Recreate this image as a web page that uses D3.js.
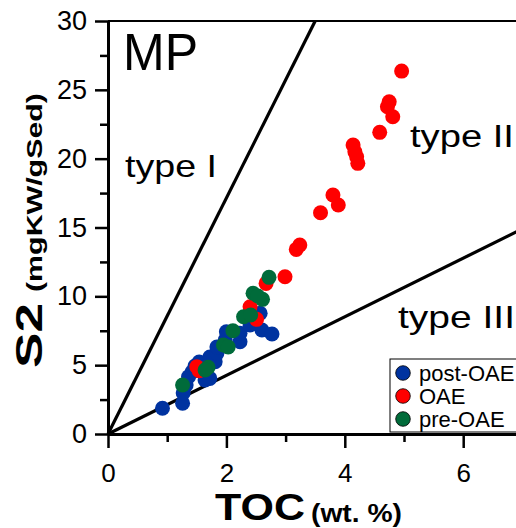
<!DOCTYPE html>
<html>
<head>
<meta charset="utf-8">
<script src="https://cdn.jsdelivr.net/npm/d3@7"></script>
<style>
  html, body { margin: 0; padding: 0; background: #fff; }
  svg { display: block; font-family: "Liberation Sans", Arial, sans-serif; }
</style>
</head>
<body>
<script>
// ---- data (TOC wt.%, S2 mgKW/gSed) ----
const postOAE_TOC = [0.92,1.26,1.27,1.32,1.36,1.42,1.47,1.54,1.64,1.72,1.81,1.72,1.84,1.84,1.98,2.00,2.23,2.23,2.40,2.48,2.57,2.60,2.77];
const postOAE_S2  = [1.87,2.23,2.98,3.56,4.16,4.50,4.94,5.23,3.92,4.04,5.25,5.59,5.86,6.32,6.83,7.43,6.70,7.31,7.92,8.42,8.77,7.55,7.26];
const OAE_TOC = [4.96,4.75,4.72,4.81,4.59,4.14,4.17,4.20,4.22,3.80,3.89,3.59,3.24,3.18,2.99,2.67,2.40,2.51,1.54,1.50];
const OAE_S2  = [26.36,24.13,23.77,23.04,21.91,20.99,20.50,20.14,19.66,17.36,16.63,16.07,13.73,13.41,11.42,10.94,9.24,8.33,4.60,4.89];
const preOAE_TOC = [2.72,2.45,2.61,2.53,2.29,2.41,2.11,1.95,2.03,1.69,1.64,1.26];
const preOAE_S2  = [11.38,10.22,9.78,10.02,8.52,8.64,7.50,6.46,6.32,4.84,4.65,3.56];

const seriesNames = ["post-OAE", "OAE", "pre-OAE"];
const seriesColors = ["#0033a0", "#ff0000", "#006b3a"];

const typeI_line   = [[0, 0], [3.5, 30]];
const typeIII_line = [[0, 0], [7, 14.9]];

const xMajorTicks = [0, 2, 4, 6];
const xMinorTicks = [1, 3, 5, 7];
const yMajorTicks = [0, 5, 10, 15, 20, 25, 30];
const yMinorTicks = [2.5, 7.5, 12.5, 17.5, 22.5, 27.5];

// ---- chart ----
const W = 516, H = 528;
const svg = d3.select("body").append("svg").attr("width", W).attr("height", H);

const x = d3.scaleLinear().domain([0, 7]).range([108, 108 + 7 * 59.2]);
const y = d3.scaleLinear().domain([0, 30]).range([434, 21]);

// boundary lines
const lineGen = d3.line().x(d => x(d[0])).y(d => y(d[1]));
[typeI_line, typeIII_line].forEach(l => {
  svg.append("path").attr("d", lineGen(l))
    .attr("fill", "none").attr("stroke", "#000").attr("stroke-width", 3.2);
});

// points
const series = [
  {tx: postOAE_TOC, s2: postOAE_S2, c: seriesColors[0]},
  {tx: OAE_TOC, s2: OAE_S2, c: seriesColors[1]},
  {tx: preOAE_TOC, s2: preOAE_S2, c: seriesColors[2]}
];
series.forEach(s => {
  svg.append("g").selectAll("circle")
    .data(s.tx.map((t, i) => [t, s.s2[i]]))
    .join("circle")
    .attr("cx", d => x(d[0])).attr("cy", d => y(d[1]))
    .attr("r", 7.5).attr("fill", s.c);
});

// top border
svg.append("line")
  .attr("x1", x(0)).attr("x2", x(7)).attr("y1", y(30)).attr("y2", y(30))
  .attr("stroke", "#000").attr("stroke-width", 2);

// axes
function styleAxis(g, w, fs) {
  g.selectAll("path.domain").attr("stroke", "#000").attr("stroke-width", w);
  g.selectAll(".tick line").attr("stroke", "#000").attr("stroke-width", 2.5);
  g.selectAll(".tick text").attr("font-size", fs).attr("fill", "#000")
    .attr("font-family", "'Liberation Sans', Arial, sans-serif");
}
const yMajor = svg.append("g").attr("transform", `translate(${x(0)},0)`)
  .call(d3.axisLeft(y).tickValues(yMajorTicks).tickSizeInner(13).tickSizeOuter(0).tickPadding(8).tickFormat(d3.format("d")));
styleAxis(yMajor, 3, 27);
const yMinor = svg.append("g").attr("transform", `translate(${x(0)},0)`)
  .call(d3.axisLeft(y).tickValues(yMinorTicks).tickSizeInner(8).tickSizeOuter(0).tickFormat(""));
styleAxis(yMinor, 3, 27);

const xMajor = svg.append("g").attr("transform", `translate(0,${y(0)})`)
  .call(d3.axisBottom(x).tickValues(xMajorTicks).tickSizeInner(14).tickSizeOuter(0).tickPadding(16).tickFormat(d3.format("d")));
styleAxis(xMajor, 3, 26);
xMajor.selectAll(".tick text").attr("dy", null).attr("y", 482);
xMajor.selectAll(".tick text").attr("y", 482 - y(0));
const xMinor = svg.append("g").attr("transform", `translate(0,${y(0)})`)
  .call(d3.axisBottom(x).tickValues(xMinorTicks).tickSizeInner(8).tickSizeOuter(0).tickFormat(""));
styleAxis(xMinor, 3, 26);

// horizontally stretched text helper (keeps glyphs, no letter-spacing)
function stretchText(parent, str, px, py, size, len, bold, rot) {
  const g = parent.append("g");
  const t = g.append("text").attr("x", 0).attr("y", 0).attr("font-size", size)
    .attr("font-weight", bold ? "bold" : "normal").attr("fill", "#000").text(str);
  const nat = t.node().getComputedTextLength();
  const sx = len / nat;
  g.attr("transform", `translate(${px},${py})` + (rot ? ` rotate(${rot})` : "") + ` scale(${sx},1)`);
  return g;
}

stretchText(svg, "MP", 123, 70, 52, 75, false);
const typeLabels = [
  {t: "type I", x: 125, y: 177, len: 92},
  {t: "type II", x: 410, y: 147, len: 104},
  {t: "type III", x: 398, y: 328, len: 117}
];
typeLabels.forEach(d => stretchText(svg, d.t, d.x, d.y, 31, d.len, false));

// axis titles
stretchText(svg, "TOC", 215, 520.3, 36, 90, true);
stretchText(svg, "(wt. %)", 311, 522, 26, 91, true);

stretchText(svg, "S2", 42, 368, 37, 65, true, -90);
stretchText(svg, "(mgKW/gSed)", 42, 292, 22, 199, true, -90);

// legend
const lg = svg.append("g");
lg.append("rect").attr("x", 390).attr("y", 359).attr("width", 140).attr("height", 73)
  .attr("fill", "#fff").attr("stroke", "#000").attr("stroke-width", 1);
seriesNames.forEach((n, i) => {
  const cy = 373 + i * 23;
  lg.append("circle").attr("cx", 403).attr("cy", cy).attr("r", 7.3)
    .attr("fill", seriesColors[i]).attr("stroke", "#000").attr("stroke-width", 0.8);
  lg.append("text").attr("x", 419).attr("y", cy + 8).attr("font-size", 22).text(n);
});
</script>
</body>
</html>
